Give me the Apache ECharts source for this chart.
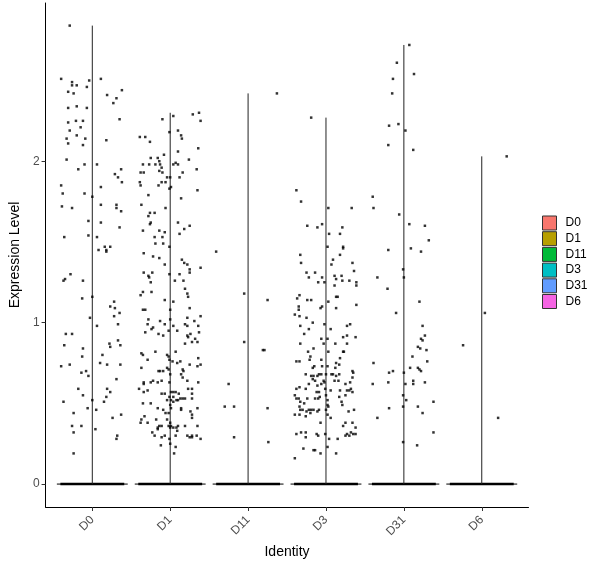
<!DOCTYPE html>
<html>
<head>
<meta charset="utf-8">
<script src="https://cdn.jsdelivr.net/npm/echarts@6/dist/echarts.min.js"></script>
<style>
  html, body { margin: 0; padding: 0; background: #fff; }
  #chart { width: 600px; height: 568px; }
</style>
</head>
<body>
<div id="chart"></div>
<script>
// groups (x axis categories) and their fill colours
var groups = ['D0', 'D1', 'D11', 'D3', 'D31', 'D6'];
var groupColors = ['#F8766D', '#B79F00', '#00BA38', '#00BFC4', '#619CFF', '#F564E3'];
var yTicks = [0, 1, 2];

// non-zero cells per group: [expression level, horizontal jitter]
var cellsD0 = [
  [2.84,-0.29],[2.51,-0.40],[2.49,-0.26],[2.50,-0.04],[2.51,0.11],[2.47,-0.26],[2.47,-0.20],[2.46,-0.07],
  [2.43,-0.31],[2.42,-0.24],[2.44,0.38],[2.41,0.19],[2.39,0.31],[2.36,0.27],[2.33,-0.31],[2.34,-0.20],
  [2.33,-0.07],[2.24,-0.31],[2.25,-0.21],[2.25,-0.12],[2.26,0.35],[2.19,-0.29],[2.21,-0.15],[2.14,-0.33],
  [2.16,-0.20],[2.14,-0.09],[2.13,0.18],[2.11,-0.31],[2.10,-0.12],[2.01,-0.33],[1.98,-0.10],[1.98,0.06],
  [1.95,-0.18],[1.95,0.37],[1.92,0.29],[1.90,0.33],[1.87,0.38],[1.85,-0.40],[1.84,0.11],[1.80,-0.38],
  [1.80,-0.10],[1.78,0.00],[1.73,0.11],[1.73,0.31],[1.72,-0.39],[1.71,-0.26],[1.71,0.31],[1.69,0.37],
  [1.63,-0.05],[1.62,0.11],[1.59,0.35],[1.53,-0.36],[1.54,-0.05],[1.53,0.06],[1.47,0.16],[1.47,0.23],
  [1.45,0.08],[1.45,0.18],[1.44,0.18],[1.30,-0.28],[1.27,-0.35],[1.26,-0.37],[1.26,-0.12],[1.15,-0.13],
  [1.16,0.00],[1.13,0.28],[1.10,0.23],[1.09,0.29],[1.06,0.35],[1.04,0.28],[1.03,-0.03],[0.98,0.06],
  [0.99,0.33],[0.93,-0.34],[0.93,-0.26],[0.89,0.33],[0.87,0.22],[0.86,-0.36],[0.85,0.23],[0.86,0.36],
  [0.84,-0.12],[0.79,-0.13],[0.80,0.13],[0.73,-0.40],[0.74,-0.29],[0.75,0.10],[0.74,0.19],[0.74,0.36],
  [0.69,-0.14],[0.70,-0.08],[0.67,-0.05],[0.65,0.31],[0.59,-0.18],[0.59,0.19],[0.57,0.23],[0.55,-0.12],
  [0.54,0.18],[0.51,-0.37],[0.52,0.00],[0.51,0.15],[0.47,-0.06],[0.46,0.05],[0.44,-0.24],[0.41,0.26],
  [0.43,0.37],[0.36,-0.26],[0.36,-0.14],[0.34,0.04],[0.32,-0.24],[0.30,0.32],[0.28,0.31],[0.19,-0.24]
];
var cellsD1 = [
  [2.26,-0.10],[2.28,0.04],[2.29,0.29],[2.30,0.37],[2.25,0.39],[2.18,-0.01],[2.19,0.10],[2.16,0.14],
  [2.14,0.15],[2.15,-0.39],[2.15,-0.32],[2.12,-0.26],[2.08,0.36],[2.06,0.10],[2.02,-0.25],[2.02,-0.16],
  [2.04,-0.08],[2.00,-0.14],[2.01,0.24],[1.98,-0.35],[1.98,-0.27],[1.98,-0.19],[1.98,-0.13],[1.98,0.04],
  [1.99,0.07],[1.98,0.10],[1.96,-0.11],[1.94,-0.14],[1.95,0.34],[1.93,-0.38],[1.93,-0.34],[1.93,-0.10],
  [1.93,0.16],[1.90,-0.04],[1.90,0.00],[1.90,0.12],[1.87,-0.11],[1.87,-0.06],[1.87,-0.39],[1.85,-0.38],
  [1.85,-0.15],[1.83,-0.01],[1.84,0.01],[1.82,0.35],[1.79,-0.28],[1.77,0.14],[1.73,-0.37],[1.71,-0.06],
  [1.68,-0.26],[1.68,-0.20],[1.66,-0.28],[1.62,-0.25],[1.61,-0.26],[1.62,0.10],[1.60,0.25],[1.57,-0.35],
  [1.57,-0.14],[1.56,-0.07],[1.55,0.12],[1.58,0.18],[1.53,-0.20],[1.53,-0.10],[1.49,-0.19],[1.49,-0.09],
  [1.47,-0.01],[1.43,-0.34],[1.41,-0.22],[1.40,-0.14],[1.36,-0.07],[1.39,0.15],[1.37,0.18],[1.36,0.22],
  [1.33,0.25],[1.31,0.25],[1.34,0.39],[1.31,-0.34],[1.31,-0.23],[1.29,-0.28],[1.28,-0.27],[1.30,0.12],
  [1.30,-0.01],[1.25,-0.25],[1.26,0.06],[1.26,0.17],[1.21,0.19],[1.19,-0.35],[1.17,-0.38],[1.19,-0.24],
  [1.18,0.22],[1.16,0.23],[1.14,-0.07],[1.13,0.04],[1.09,0.25],[1.08,-0.35],[1.08,-0.32],[1.08,0.00],
  [1.03,0.22],[1.04,0.39],[1.02,-0.28],[1.01,-0.13],[1.02,0.00],[0.99,-0.29],[0.99,-0.07],[0.98,0.04],
  [0.99,0.19],[0.98,0.22],[1.01,0.31],[0.96,-0.24],[0.97,-0.22],[0.93,-0.15],[0.92,-0.09],[0.95,-0.02],
  [0.95,0.09],[0.94,-0.32],[0.92,0.22],[0.91,0.23],[0.93,0.26],[0.98,0.36],[0.94,0.37],[0.87,0.19],
  [0.88,0.28],[0.90,0.32],[0.88,0.35],[0.81,-0.37],[0.80,-0.35],[0.82,-0.19],[0.80,-0.04],[0.79,-0.02],
  [0.82,0.07],[0.77,-0.29],[0.77,-0.01],[0.76,0.03],[0.75,0.09],[0.76,0.13],[0.71,0.16],[0.70,0.17],
  [0.74,0.25],[0.78,0.36],[0.74,0.39],[0.73,0.35],[0.72,-0.37],[0.70,-0.15],[0.70,-0.13],[0.70,-0.09],
  [0.72,-0.04],[0.71,-0.02],[0.68,0.00],[0.68,0.14],[0.66,0.16],[0.64,0.22],[0.63,0.36],[0.63,-0.34],
  [0.62,-0.34],[0.63,-0.25],[0.64,-0.22],[0.63,-0.16],[0.64,-0.11],[0.63,-0.01],[0.59,-0.40],[0.57,-0.34],
  [0.58,-0.29],[0.57,0.01],[0.57,0.04],[0.57,0.07],[0.56,0.11],[0.59,0.23],[0.59,0.28],[0.56,0.28],
  [0.56,-0.11],[0.56,-0.07],[0.54,-0.01],[0.52,0.01],[0.54,0.04],[0.52,0.08],[0.53,0.13],[0.53,0.16],
  [0.53,0.19],[0.52,0.10],[0.53,0.28],[0.50,-0.35],[0.50,-0.25],[0.52,-0.04],[0.49,0.00],[0.51,0.04],
  [0.47,-0.16],[0.46,-0.09],[0.44,-0.06],[0.44,-0.02],[0.47,0.01],[0.47,0.14],[0.46,0.14],[0.47,0.35],
  [0.45,0.26],[0.43,0.28],[0.41,0.28],[0.42,-0.33],[0.40,-0.37],[0.38,-0.38],[0.40,-0.18],[0.40,-0.04],
  [0.38,0.00],[0.38,-0.29],[0.36,0.01],[0.36,-0.02],[0.35,0.04],[0.35,0.08],[0.36,0.10],[0.35,0.00],
  [0.36,0.19],[0.36,0.35],[0.35,-0.16],[0.36,-0.14],[0.36,-0.11],[0.34,-0.16],[0.33,0.09],[0.30,-0.20],
  [0.32,-0.23],[0.29,-0.11],[0.30,-0.07],[0.28,-0.01],[0.30,0.07],[0.30,0.22],[0.29,0.25],[0.30,0.28],
  [0.29,0.28],[0.30,0.34],[0.28,0.39],[0.24,-0.12],[0.25,0.00],[0.23,0.07],[0.19,0.05]
];
var cellsD11 = [
  [2.42,0.37],[1.44,-0.41],[1.18,-0.05],[1.14,0.25],[0.88,-0.05],[0.83,0.19],[0.83,0.21],
  [0.62,-0.25],[0.48,-0.30],[0.48,-0.18],[0.47,0.25],[0.29,-0.18],[0.26,0.26]
];
var cellsD3 = [
  [2.27,-0.19],[1.82,-0.38],[1.75,-0.32],[1.71,0.03],[1.71,0.33],[1.60,-0.24],[1.59,-0.11],[1.61,-0.05],
  [1.59,0.21],[1.55,0.04],[1.55,0.18],[1.47,0.02],[1.47,0.22],[1.46,0.22],[1.42,-0.33],[1.42,0.18],
  [1.39,0.09],[1.37,-0.32],[1.36,0.07],[1.37,0.34],[1.32,0.36],[1.31,-0.25],[1.31,-0.14],[1.28,-0.22],
  [1.28,-0.05],[1.29,0.11],[1.27,0.13],[1.29,0.20],[1.26,0.21],[1.26,0.30],[1.25,-0.10],[1.25,-0.02],
  [1.25,0.39],[1.23,0.39],[1.23,0.11],[1.17,-0.34],[1.15,-0.37],[1.14,-0.24],[1.14,-0.19],[1.16,0.13],
  [1.16,0.15],[1.13,0.03],[1.11,0.39],[1.10,-0.05],[1.09,-0.07],[1.10,-0.35],[1.08,-0.35],[1.09,0.13],
  [1.05,-0.40],[1.04,-0.34],[1.03,-0.25],[0.98,-0.33],[1.00,-0.17],[0.99,-0.02],[0.96,0.06],[0.98,0.27],
  [0.99,0.31],[0.96,-0.22],[0.93,-0.28],[0.90,0.02],[0.91,0.22],[0.92,0.27],[0.91,0.38],[0.90,-0.06],
  [0.87,-0.33],[0.87,-0.03],[0.87,0.12],[0.87,0.27],[0.84,-0.16],[0.82,-0.23],[0.82,0.03],[0.82,0.22],
  [0.82,0.23],[0.79,-0.20],[0.76,-0.38],[0.76,-0.34],[0.77,-0.21],[0.77,-0.06],[0.78,0.18],[0.75,0.13],
  [0.72,-0.17],[0.73,-0.15],[0.73,-0.05],[0.73,0.02],[0.72,0.12],[0.74,0.17],[0.70,0.34],[0.69,0.35],
  [0.67,-0.19],[0.67,-0.16],[0.67,-0.11],[0.68,-0.09],[0.68,-0.06],[0.68,0.00],[0.68,0.07],[0.68,0.09],
  [0.68,-0.26],[0.67,0.13],[0.68,0.17],[0.65,-0.17],[0.64,-0.14],[0.64,-0.03],[0.64,0.11],[0.64,0.16],
  [0.66,0.34],[0.63,0.31],[0.62,-0.22],[0.61,-0.11],[0.62,-0.06],[0.63,-0.02],[0.62,0.25],[0.60,-0.34],
  [0.59,-0.38],[0.59,-0.26],[0.57,-0.12],[0.57,-0.09],[0.59,-0.01],[0.58,0.06],[0.58,0.18],[0.58,0.27],
  [0.58,0.30],[0.59,0.32],[0.55,0.25],[0.57,0.34],[0.55,-0.40],[0.53,-0.38],[0.53,-0.35],[0.53,-0.24],
  [0.53,-0.14],[0.53,-0.10],[0.55,0.00],[0.52,0.02],[0.54,-0.08],[0.54,0.17],[0.51,-0.33],[0.50,-0.28],
  [0.48,-0.34],[0.49,0.02],[0.48,0.03],[0.51,0.20],[0.49,0.21],[0.46,-0.33],[0.46,-0.30],[0.45,-0.25],
  [0.46,-0.22],[0.46,-0.19],[0.46,-0.16],[0.45,-0.11],[0.46,-0.09],[0.46,0.00],[0.43,0.02],[0.44,-0.20],
  [0.45,0.29],[0.46,0.36],[0.43,-0.40],[0.43,-0.34],[0.42,-0.26],[0.41,0.06],[0.38,-0.07],[0.38,0.25],
  [0.38,0.34],[0.36,0.22],[0.35,0.38],[0.31,-0.38],[0.32,-0.32],[0.32,-0.26],[0.29,-0.26],[0.31,-0.12],
  [0.30,-0.10],[0.31,-0.01],[0.30,0.25],[0.31,0.27],[0.30,0.30],[0.32,0.32],[0.31,0.35],[0.31,0.38],
  [0.28,0.04],[0.28,0.15],[0.22,-0.29],[0.21,-0.16],[0.21,-0.14],[0.23,0.02],[0.19,-0.07],[0.19,0.13],
  [0.16,-0.40]
];
var cellsD31 = [
  [2.72,0.07],[2.61,-0.09],[2.54,0.13],[2.51,-0.14],[2.42,-0.15],[2.22,-0.19],[2.23,-0.07],[2.19,0.02],
  [2.10,-0.20],[2.07,0.12],[1.78,-0.40],[1.71,-0.39],[1.67,-0.06],[1.61,0.07],[1.60,0.27],[1.51,0.32],
  [1.45,-0.20],[1.46,0.09],[1.44,0.22],[1.33,-0.01],[1.28,-0.34],[1.28,0.00],[1.21,-0.21],[1.13,0.20],
  [1.06,-0.10],[0.98,0.24],[0.92,0.27],[0.90,0.22],[0.89,0.24],[0.85,0.18],[0.84,0.21],[0.83,0.29],
  [0.79,0.11],[0.76,0.30],[0.75,-0.39],[0.72,0.08],[0.72,0.18],[0.71,0.20],[0.70,0.22],[0.69,-0.19],
  [0.70,-0.14],[0.69,0.00],[0.62,-0.40],[0.63,-0.20],[0.62,0.02],[0.64,0.12],[0.62,0.12],[0.63,0.27],
  [0.55,-0.01],[0.52,0.03],[0.51,0.38],[0.47,-0.19],[0.48,-0.01],[0.48,0.18],[0.44,0.24],[0.41,-0.34],
  [0.32,0.38],[0.26,-0.01],[0.24,0.17]
];
var cellsD6 = [
  [2.03,0.32],[1.06,0.04],[0.86,-0.24],[0.41,0.21]
];
var cellsByGroup = [cellsD0, cellsD1, cellsD11, cellsD3, cellsD31, cellsD6];

var chart = echarts.init(document.getElementById('chart'));

var font = 'Liberation Sans, Arial, sans-serif';

// jittered points: x = group position + jitter
var points = [];
cellsByGroup.forEach(function(cells, g) {
  cells.forEach(function(c) {
    points.push([g + 1 + c[1], c[0]]);
  });
});

// violin for each group: mostly-zero data collapses to a flat base and a thin spine
function renderViolin(params, api) {
  var x = api.value(0), top = api.value(1);
  var base = api.coord([x, 0]);
  var peak = api.coord([x, top]);
  var left = api.coord([x - 0.455, 0]);
  var right = api.coord([x + 0.455, 0]);
  var bandL = api.coord([x - 0.41, 0]);
  var bandR = api.coord([x + 0.41, 0]);
  return {
    type: 'group',
    children: [
      { type: 'line', shape: { x1: left[0], y1: base[1], x2: right[0], y2: base[1] },
        style: { stroke: '#000', lineWidth: 1 } },
      { type: 'line', shape: { x1: bandL[0], y1: base[1], x2: bandR[0], y2: base[1] },
        style: { stroke: '#000', lineWidth: 2.5 } },
      { type: 'line', shape: { x1: base[0], y1: base[1], x2: peak[0], y2: peak[1] },
        style: { stroke: '#222', lineWidth: 1 } }
    ]
  };
}

var series = groups.map(function(name, g) {
  var maxVal = Math.max.apply(null, cellsByGroup[g].map(function(c) { return c[0]; }));
  return {
    name: name,
    type: 'custom',
    renderItem: renderViolin,
    itemStyle: { color: groupColors[g] },
    data: [[g + 1, maxVal]],
    z: 2
  };
});

series.push({
  name: 'cells',
  type: 'scatter',
  symbol: 'rect',
  symbolSize: 2.5,
  itemStyle: { color: '#000' },
  data: points,
  z: 5,
  silent: true
});

var option = {
  backgroundColor: '#fff',
  animation: false,
  textStyle: { fontFamily: font },
  grid: { left: 43.5, right: 71.5, top: 3, bottom: 61 },
  legend: {
    data: groups,
    orient: 'vertical',
    left: 542,
    top: 215.5,
    padding: 0,
    icon: 'rect',
    itemWidth: 14,
    itemHeight: 14,
    itemGap: 0.7,
    itemStyle: { borderColor: '#333', borderWidth: 1 },
    textStyle: { fontSize: 12, lineHeight: 14, color: '#000', fontFamily: font, padding: [0, 0, 0, 4] }
  },
  xAxis: {
    type: 'value',
    min: 0.4,
    max: 6.6,
    name: 'Identity',
    nameLocation: 'middle',
    nameGap: 34,
    nameTextStyle: { fontSize: 14, color: '#000', fontFamily: font },
    splitLine: { show: false },
    axisLine: { show: true, onZero: false, lineStyle: { color: '#000', width: 1 } },
    axisTick: { show: true, length: 4, customValues: [1, 2, 3, 4, 5, 6], lineStyle: { color: '#333' } },
    axisLabel: {
      customValues: [1, 2, 3, 4, 5, 6],
      rotate: 45,
      margin: 11,
      fontSize: 12,
      color: '#4D4D4D',
      fontFamily: font,
      formatter: function(v) { return groups[Math.round(v) - 1]; }
    }
  },
  yAxis: {
    type: 'value',
    min: -0.142,
    max: 2.98,
    name: 'Expression Level',
    nameLocation: 'middle',
    nameGap: 18,
    nameTextStyle: { fontSize: 14, color: '#000', fontFamily: font },
    splitLine: { show: false },
    axisLine: { show: true, onZero: false, lineStyle: { color: '#000', width: 1 } },
    axisTick: { show: true, length: 4, customValues: yTicks, lineStyle: { color: '#333' } },
    axisLabel: {
      customValues: yTicks,
      margin: 6,
      fontSize: 12,
      color: '#4D4D4D',
      fontFamily: font
    }
  },
  series: series
};

chart.setOption(option);
</script>
</body>
</html>
